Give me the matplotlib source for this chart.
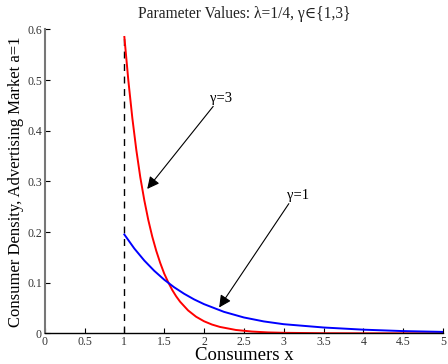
import matplotlib
matplotlib.use("Agg")
import matplotlib.pyplot as plt

# Data
x_red = [1.0, 1.05, 1.1, 1.15, 1.2, 1.25, 1.3, 1.35, 1.4, 1.45, 1.5, 1.55, 1.6, 1.65, 1.7, 1.8, 1.9,
         2.0, 2.1, 2.2, 2.4, 2.6, 2.8, 3.0, 3.5, 4.0, 4.5, 5.0]
y_red = [0.585, 0.499, 0.425, 0.362, 0.308, 0.263, 0.224, 0.191, 0.163, 0.139, 0.118, 0.101,
         0.0858, 0.0731, 0.0623, 0.0452, 0.0328, 0.0238, 0.0173, 0.0126, 0.0066, 0.0035,
         0.0018, 0.0010, 0.0002, 0.0, 0.0, 0.0]
x_blue = [1.0, 1.125, 1.25, 1.375, 1.5, 1.625, 1.75, 1.875, 2.0, 2.25, 2.5, 2.75, 3.0, 3.5, 4.0, 4.5, 5.0]
y_blue = [0.195, 0.1674, 0.1437, 0.1234, 0.1059, 0.0909, 0.0781, 0.0670, 0.0576, 0.0424, 0.0313,
          0.0235, 0.0180, 0.0115, 0.0072, 0.0044, 0.0028]
x_ticks = [0, 0.5, 1, 1.5, 2, 2.5, 3, 3.5, 4, 4.5, 5]
x_ticklabels = ["0", "0.5", "1", "1.5", "2", "2.5", "3", "3.5", "4", "4.5", "5"]
y_ticks = [0, 0.1, 0.2, 0.3, 0.4, 0.5, 0.6]
y_ticklabels = ["0", "0.1", "0.2", "0.3", "0.4", "0.5", "0.6"]
cutoff_x = 1.0
cutoff_top = 0.585

plt.rcParams['font.family'] = ['Liberation Serif', 'DejaVu Serif']

fig = plt.figure(figsize=(4.48, 3.64), dpi=100)
ax = fig.add_axes([0.0998, 0.0843, 0.889, 0.835])

ax.plot([cutoff_x, cutoff_x], [0, cutoff_top], color='black', lw=1.0, ls=(0, (5, 4)))
ax.plot(x_red, y_red, color='#ff0000', lw=1.4)
ax.plot(x_blue, y_blue, color='#0000ff', lw=1.4)

ax.set_xlim(0, 5)
ax.set_ylim(0, 0.6)
ax.set_xticks(x_ticks)
ax.set_xticklabels(x_ticklabels)
ax.set_yticks(y_ticks)
ax.set_yticklabels(y_ticklabels)
ax.tick_params(direction='in', length=3.5, width=0.8, labelsize=8.5, labelcolor='#333333', pad=2)

for s in ['top', 'right']:
    ax.spines[s].set_visible(False)
ax.spines['left'].set_color('#777777')
ax.spines['left'].set_linewidth(1.5)
ax.spines['bottom'].set_color('black')
ax.spines['bottom'].set_linewidth(1.0)

ax.set_title("Parameter Values: λ=1/4, γ∈{1,3}", fontsize=11.2, color='#222222', pad=8)
ax.set_xlabel("Consumers x", fontsize=13.5, labelpad=-1)
ax.set_ylabel("Consumer Density, Advertising Market a=1", fontsize=12, labelpad=2)

arrow = dict(arrowstyle='-|>,head_length=0.6,head_width=0.3', color='black', lw=0.8,
             mutation_scale=12, shrinkA=0, shrinkB=0)
ax.annotate("", xy=(1.287, 0.285), xytext=(2.115, 0.448), arrowprops=arrow)
ax.text(2.08, 0.463, "γ=3", fontsize=10.5, ha='left', va='center')
ax.annotate("", xy=(2.19, 0.051), xytext=(3.065, 0.256), arrowprops=arrow)
ax.text(3.04, 0.273, "γ=1", fontsize=10.5, ha='left', va='center')

fig.savefig("out.png", dpi=100)
